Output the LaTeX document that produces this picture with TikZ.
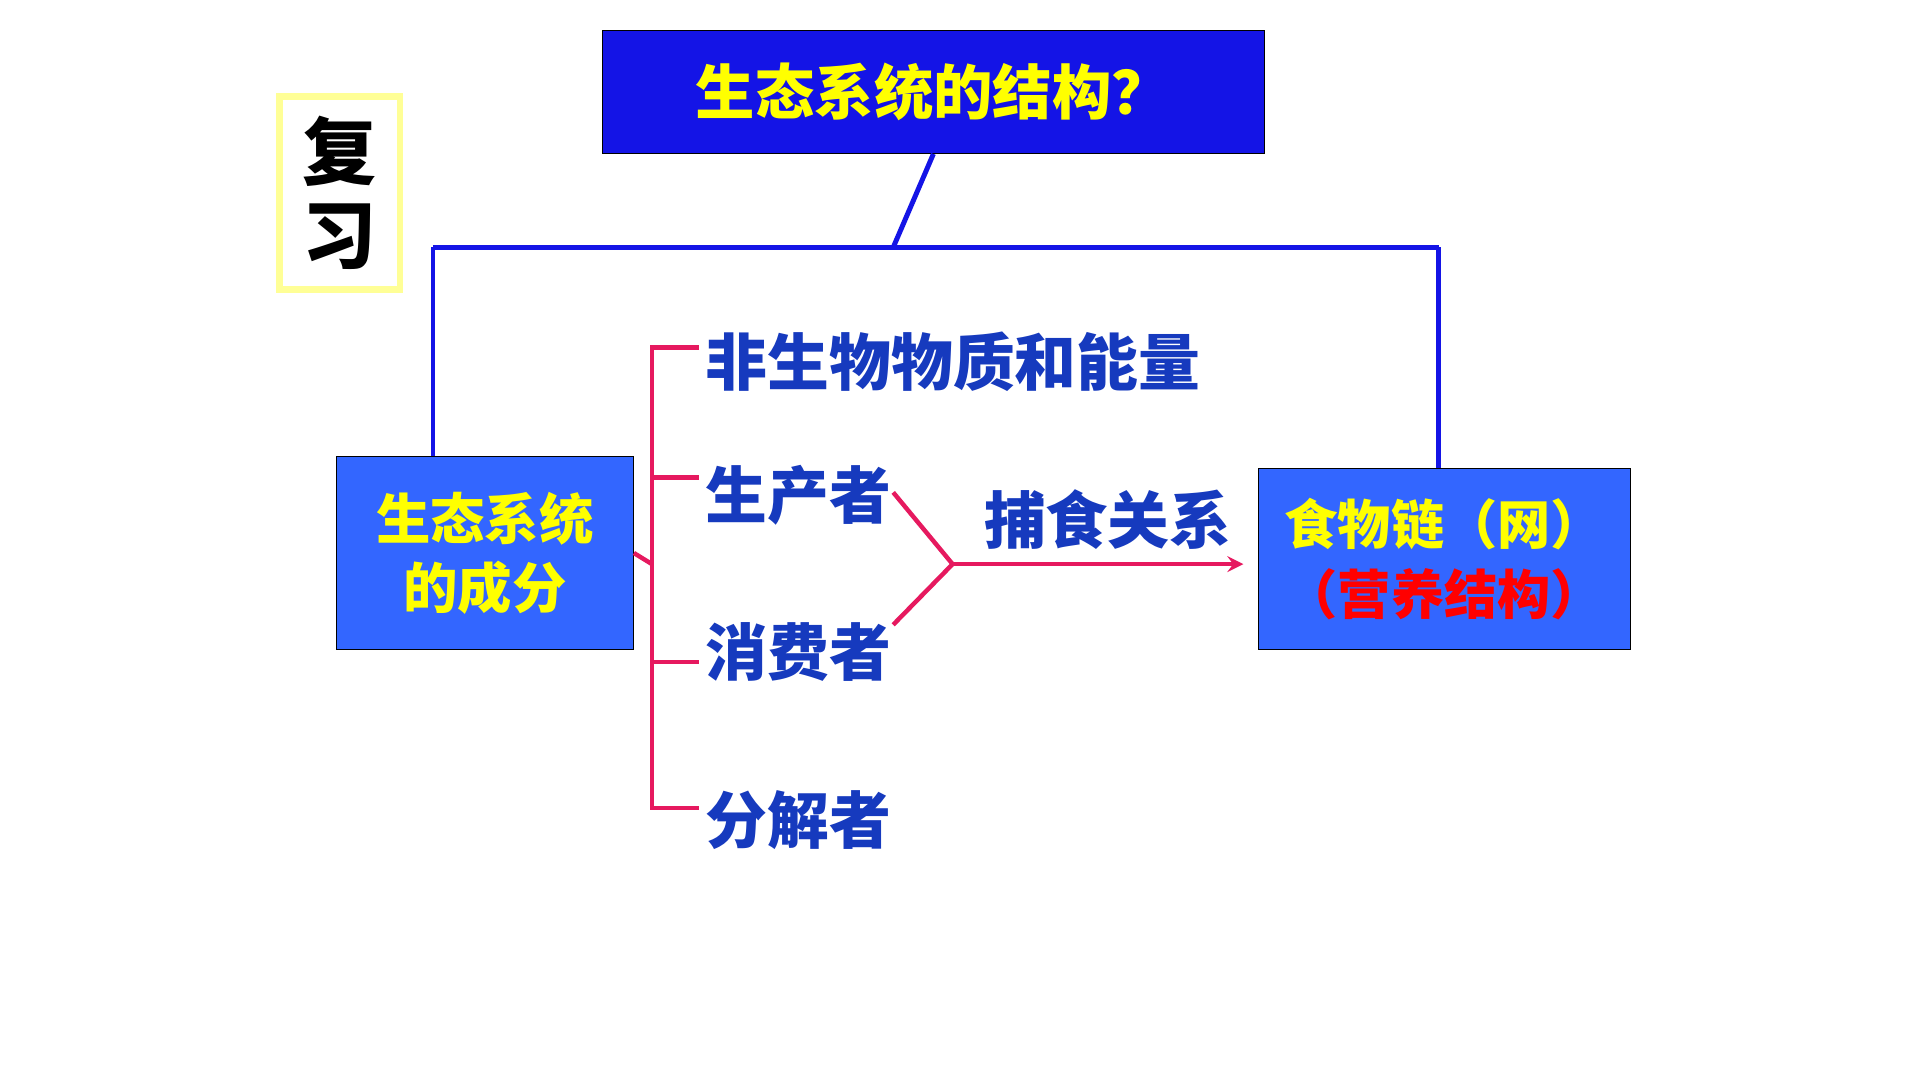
\documentclass[tikz,border=0pt]{standalone}
\usepackage{fontspec}
\newfontfamily\cjk{Noto Sans CJK SC}
\definecolor{boxblue}{RGB}{20,20,230}
\definecolor{lightblue}{RGB}{51,102,255}
\definecolor{txtblue}{RGB}{22,58,190}
\definecolor{pinkc}{RGB}{230,25,95}
\definecolor{yel}{RGB}{255,255,0}
\definecolor{paleyel}{RGB}{255,255,150}
\tikzset{
 bline/.style={draw=boxblue,line width=2pt},
 pline/.style={draw=pinkc,line width=1.8pt},
 lbl/.style={anchor=west,text=txtblue,font=\cjk\bfseries\fontsize{25pt}{28pt}\selectfont,inner sep=0pt},
}
\begin{document}
\begin{tikzpicture}[x=0.5pt,y=-0.5pt]
\useasboundingbox[fill=white] (0,0) rectangle (1552,873);
\node[draw=black,fill=boxblue,minimum width=267.5pt,minimum height=49.5pt,inner sep=0pt,text=yel,font=\cjk\bfseries\fontsize{24pt}{28pt}\selectfont] (top) at (754.5,74.5) {生态系统的结构？};
\node[draw=paleyel,line width=2.5pt,minimum width=48.5pt,minimum height=78pt,inner sep=0pt,align=center,font=\cjk\bfseries\fontsize{30pt}{34pt}\selectfont] (fx) at (274.5,156) {复\\习};
\node[draw=black,fill=lightblue,minimum width=120pt,minimum height=78pt,inner sep=0pt,align=center,text=yel,font=\cjk\bfseries\fontsize{22pt}{28pt}\selectfont] (left) at (392,447) {生态系统\\的成分};
\node[draw=black,fill=lightblue,minimum width=150.5pt,minimum height=73pt,inner sep=0pt,align=center,font=\cjk\bfseries\fontsize{21.5pt}{28pt}\selectfont] (right) at (1167.5,452) {\textcolor{yel}{食物链（网）}\\\textcolor{red}{（营养结构）}};
\coordinate (tj) at (722,200);
\coordinate (lc) at (350,200);
\coordinate (rc) at (1163,200);
\draw[bline] (top.south) -- (tj);
\draw[bline] (lc) -- (rc);
\draw[bline] (lc) -- (lc|-left.north);
\draw[bline] (rc) -- (rc|-right.north);
\node[lbl] (a) at (570,292) {非生物物质和能量};
\node[lbl] (b) at (570,400) {生产者};
\node[lbl] (c) at (570,527) {消费者};
\node[lbl] (d) at (570,663) {分解者};
\node[lbl] (e) at (795,420) {捕食关系};
\coordinate (bt) at (527,281);
\coordinate (bb) at (527,653);
\draw[pline] (left.east) -- (527,456);
\draw[pline] (565,281) -- (bt) -- (bb) -- (565,653);
\draw[pline] (527,386) -- (565,386);
\draw[pline] (527,535) -- (565,535);
\coordinate (m) at (770,456);
\draw[pline] (722,398) -- (m) -- (722,505);
\draw[pline,->,>=stealth] (m) -- (1005,456);
\end{tikzpicture}
\end{document}
